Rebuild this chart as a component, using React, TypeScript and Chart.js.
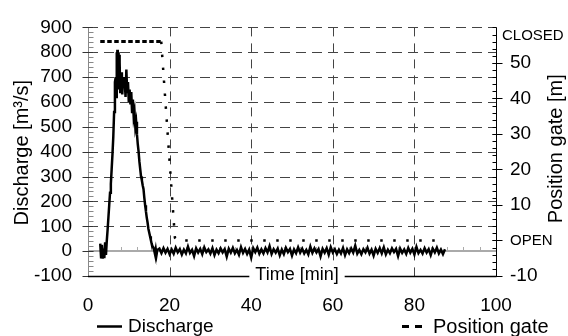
import React, { useEffect, useRef } from 'react';
import { Chart, registerables } from 'chart.js';

Chart.register(...registerables);

// ---- Discharge (m³/s), left axis ----
const peakTimes = [
  3.0, 3.2, 3.4, 3.6, 3.8, 4.0, 4.2, 4.4, 4.6, 4.8, 5.0, 5.2, 5.4, 5.6, 5.8, 6.0, 6.2, 6.4, 6.6, 6.8,
  6.9, 7.0, 7.1, 7.2, 7.3, 7.4, 7.5, 7.6, 7.7, 7.8, 7.9, 8.0, 8.2, 8.3, 8.4, 8.6, 8.8, 9.0, 9.2, 9.4,
  9.6, 9.8, 10.0, 10.2, 10.4, 10.6, 10.8, 11.0, 11.2, 11.4, 11.6, 11.8, 12.0, 12.2, 12.4, 12.6, 12.8,
  13.0, 13.2, 13.4, 13.6, 13.8, 14.0, 14.2, 14.4, 14.6, 14.8, 15.0, 15.2, 15.4, 15.6, 15.8, 16.0, 16.2,
  16.4, 16.6, 16.8, 17.0,
];
const peakDischarge = [
  30, -25, 25, -30, 10, -28, 35, -15, 40, 85, 135, 185, 235, 270, 330, 390, 460, 560, 680, 700,
  620, 800, 690, 810, 650, 800, 700, 790, 660, 760, 640, 700, 650, 720, 630, 700, 660, 690, 620, 730,
  640, 680, 600, 650, 590, 640, 560, 610, 540, 560, 500, 520, 470, 430, 400, 360, 330,
  300, 285, 265, 250, 215, 185, 160, 135, 115, 90, 75, 60, 45, 30, 20, 15, 5,
  -10, 8, -15, 5,
];
const tailStart = 17.5;
const tailStep = 0.5;
const tailDischarge = [
  10, -8, 12, -6, 9, -12, 7, -10, 14, -5,
  8, -14, 6, -9, 18, -7, 5, -20, 11, -6,
  9, -12, 15, -4, 7, -10, 12, -16, 6, -8,
  11, -5, 8, -22, 10, -6, 13, -9, 5, -14,
  16, -7, 9, -11, 6, -26, 12, -4, 14, -10,
  7, -9, 12, -5, 20, -11, 8, -6, 10, -17,
  6, -12, 13, -4, 9, -18, 7, -8, 15, -6,
  10, -9, 5, -13, 18, -7, 11, -5, 8, -21,
  9, -6, 12, -14, 16, -5, 8, -11, 6, -9,
  13, -16, 7, -8, 11, -6, 22, -10, 5, -12,
  8, -5, 14, -10, 6, -18, 9, -7, 12, -9,
  15, -13, 6, -8, 11, -4, 9, -20, 10, -7,
  7, -11, 13, -6, 9, -14, 17, -8, 5, -10,
  12, -6, 8, -16, 10, -5, 14, -9, 6, -12,
  8,
];

// ---- Gate position (m), right axis ----
const gateTimes = [3.0, 17.95, 21.3, 22.0, 87.0];
const gatePositions = [56, 56, 0.8, 0, 0];

// ---- Axis / tick definitions ----
const xTicks = [0, 20, 40, 60, 80, 100];
const dischargeTicks = [-100, 0, 100, 200, 300, 400, 500, 600, 700, 800, 900];
const gateTicks = [-10, 0, 10, 20, 30, 40, 50];
const gateClosedValue = 57.5;
const hGridValues = [100, 200, 300, 400, 500, 600, 700, 800, 900];
const vGridValues = [20, 40, 60, 80];

const FONT = "'Liberation Sans', Arial, Helvetica, sans-serif";

const W = 568;
const H = 336;

function seg(ctx: CanvasRenderingContext2D, x1: number, y1: number, x2: number, y2: number) {
  ctx.beginPath();
  ctx.moveTo(x1, y1);
  ctx.lineTo(x2, y2);
  ctx.stroke();
}

const decor = {
  id: 'decor',
  beforeDatasetsDraw(chart: any) {
    const { ctx, chartArea: a, scales } = chart;
    const xs = scales.x, ys = scales.y;
    ctx.save();
    ctx.strokeStyle = '#444';
    ctx.lineWidth = 1;
    ctx.setLineDash([10, 6]);
    for (const v of hGridValues) {
      const py = Math.round(ys.getPixelForValue(v)) + 0.5;
      seg(ctx, a.left, py, a.right, py);
    }
    ctx.setLineDash([9, 7]);
    for (const v of vGridValues) {
      const px = Math.round(xs.getPixelForValue(v)) + 0.5;
      seg(ctx, px, a.top, px, a.bottom);
    }
    ctx.setLineDash([]);
    const zy = Math.round(ys.getPixelForValue(0));
    ctx.strokeStyle = '#aaa';
    ctx.lineWidth = 2;
    seg(ctx, a.left, zy, a.right, zy);
    ctx.lineWidth = 1;
    for (let t = 4; t < 100; t += 4) {
      const px = Math.round(xs.getPixelForValue(t)) + 0.5;
      seg(ctx, px, zy, px, zy - 4);
    }
    ctx.restore();
  },
  afterDatasetsDraw(chart: any) {
    const { ctx, chartArea: a, scales } = chart;
    const ys = scales.y, y2 = scales.y2;
    ctx.save();
    const lx = Math.round(a.left) + 0.5;
    ctx.strokeStyle = '#888';
    ctx.lineWidth = 1;
    seg(ctx, lx, a.top, lx, a.bottom);
    for (let v = -100; v <= 900; v += 20) {
      const py = Math.round(ys.getPixelForValue(v)) + 0.5;
      seg(ctx, lx, py, lx + 5, py);
    }
    ctx.strokeStyle = '#333';
    for (const v of dischargeTicks) {
      const py = Math.round(ys.getPixelForValue(v)) + 0.5;
      seg(ctx, lx - 6, py, lx + 5, py);
    }
    const rx = Math.round(a.right) + 0.5;
    ctx.strokeStyle = '#000';
    seg(ctx, rx, a.top, rx, a.bottom);
    for (let v = -10; v <= 60; v += 2) {
      const py = Math.round(y2.getPixelForValue(v)) + 0.5;
      seg(ctx, rx - 4, py, rx, py);
    }
    for (const v of gateTicks) {
      const py = Math.round(y2.getPixelForValue(v)) + 0.5;
      seg(ctx, rx - 4, py, rx + 6, py);
    }
    const by = Math.round(a.bottom) + 0.5;
    ctx.lineWidth = 1.5;
    seg(ctx, a.left, by, a.right + 0.5, by);
    ctx.restore();
  },
  afterDraw(chart: any) {
    const { ctx, chartArea: a, scales } = chart;
    const y2 = scales.y2;
    ctx.save();
    ctx.font = `18px ${FONT}`;
    ctx.textBaseline = 'middle';
    ctx.textAlign = 'center';
    const tcx = 297;
    const tw = ctx.measureText('Time [min]').width;
    ctx.fillStyle = '#fff';
    ctx.fillRect(tcx - tw / 2 - 6, a.bottom - 9, tw + 12, 19);
    ctx.fillStyle = '#000';
    ctx.fillText('Time [min]', tcx, a.bottom - 0.5);

    ctx.font = `20px ${FONT}`;
    ctx.save();
    ctx.translate(22, (a.top + a.bottom) / 2 + 1);
    ctx.rotate(-Math.PI / 2);
    ctx.fillText('Discharge [m³/s]', 0, 0);
    ctx.restore();
    ctx.save();
    ctx.translate(556, (a.top + a.bottom) / 2 - 3);
    ctx.rotate(-Math.PI / 2);
    ctx.fillText('Position gate [m]', 0, 0);
    ctx.restore();

    ctx.font = `15px ${FONT}`;
    ctx.textAlign = 'left';
    ctx.fillText('CLOSED', 502, y2.getPixelForValue(gateClosedValue));

    ctx.strokeStyle = '#000';
    ctx.font = `19px ${FONT}`;
    ctx.lineWidth = 2.5;
    seg(ctx, 97, 326.5, 122, 326.5);
    ctx.fillText('Discharge', 128, 327);
    ctx.lineWidth = 3;
    ctx.setLineDash([7, 6]);
    seg(ctx, 402, 326.5, 422, 326.5);
    ctx.setLineDash([]);
    ctx.font = `20px ${FONT}`;
    ctx.fillText('Position gate', 433, 327);
    ctx.restore();
  },
};

export default function App() {
  const ref = useRef<HTMLCanvasElement | null>(null);

  useEffect(() => {
    if (!ref.current) return;
    const dischargeData = [
      ...peakTimes.map((t, i) => ({ x: t, y: peakDischarge[i] })),
      ...tailDischarge.map((v, i) => ({ x: tailStart + i * tailStep, y: v })),
    ];
    const gateData = gateTimes.map((t, i) => ({ x: t, y: gatePositions[i] }));

    Chart.defaults.font.family = FONT;
    const chart = new Chart(ref.current, {
      type: 'line',
      data: {
        datasets: [
          {
            label: 'Discharge',
            data: dischargeData,
            yAxisID: 'y',
            borderColor: '#000',
            borderWidth: 2.5,
            pointRadius: 0,
            tension: 0,
            fill: false,
          },
          {
            label: 'Position gate',
            data: gateData,
            yAxisID: 'y2',
            borderColor: '#000',
            borderWidth: 3,
            pointRadius: 0,
            tension: 0,
            fill: false,
            borderCapStyle: 'butt',
            segment: {
              borderDash: (c: any) =>
                c.p0.parsed.y > 55 && c.p1.parsed.y > 55 ? [4.5, 2.5] : [2.5, 10.5],
              borderWidth: (c: any) => (c.p0.parsed.y > 55 && c.p1.parsed.y > 55 ? 3 : 2.5),
            },
          } as any,
        ],
      },
      options: {
        responsive: false,
        maintainAspectRatio: false,
        animation: false,
        devicePixelRatio: 1,
        layout: { padding: { top: 7, left: 0, right: 0, bottom: 0 } },
        plugins: {
          legend: { display: false },
          tooltip: { enabled: false },
        },
        scales: {
          x: {
            type: 'linear',
            min: 0,
            max: 100,
            afterBuildTicks: (s: any) => {
              s.ticks = xTicks.map((v) => ({ value: v }));
            },
            ticks: {
              padding: 18,
              color: '#000',
              font: { size: 19 },
              maxRotation: 0,
              autoSkip: false,
            },
            grid: { display: false, drawTicks: false },
            border: { display: false },
            afterFit: (s: any) => {
              s.height = 60;
            },
          },
          y: {
            position: 'left',
            min: -100,
            max: 900,
            afterBuildTicks: (s: any) => {
              s.ticks = dischargeTicks.map((v) => ({ value: v }));
            },
            ticks: { padding: 16, color: '#000', font: { size: 19 }, autoSkip: false },
            grid: { display: false, drawTicks: false },
            border: { display: false },
            afterFit: (s: any) => {
              s.width = 88;
            },
          },
          y2: {
            position: 'right',
            min: -10,
            max: 60,
            afterBuildTicks: (s: any) => {
              s.ticks = gateTicks.map((v) => ({ value: v }));
            },
            ticks: {
              padding: 14,
              color: '#000',
              autoSkip: false,
              font: (c: any) => ({ size: c.tick && c.tick.value === 0 ? 15 : 19 }),
              callback: (v: any) => (v === 0 ? 'OPEN' : String(v)),
            },
            grid: { display: false, drawTicks: false },
            border: { display: false },
            afterFit: (s: any) => {
              s.width = 72;
            },
          },
        },
      } as any,
      plugins: [decor],
    });
    return () => chart.destroy();
  }, []);

  return (
    <div style={{ position: 'fixed', left: 0, top: 0, width: W, height: H }}>
      <canvas
        ref={ref}
        width={W}
        height={H}
        style={{ position: 'absolute', left: 0, top: 0, width: W, height: H }}
      />
    </div>
  );
}
